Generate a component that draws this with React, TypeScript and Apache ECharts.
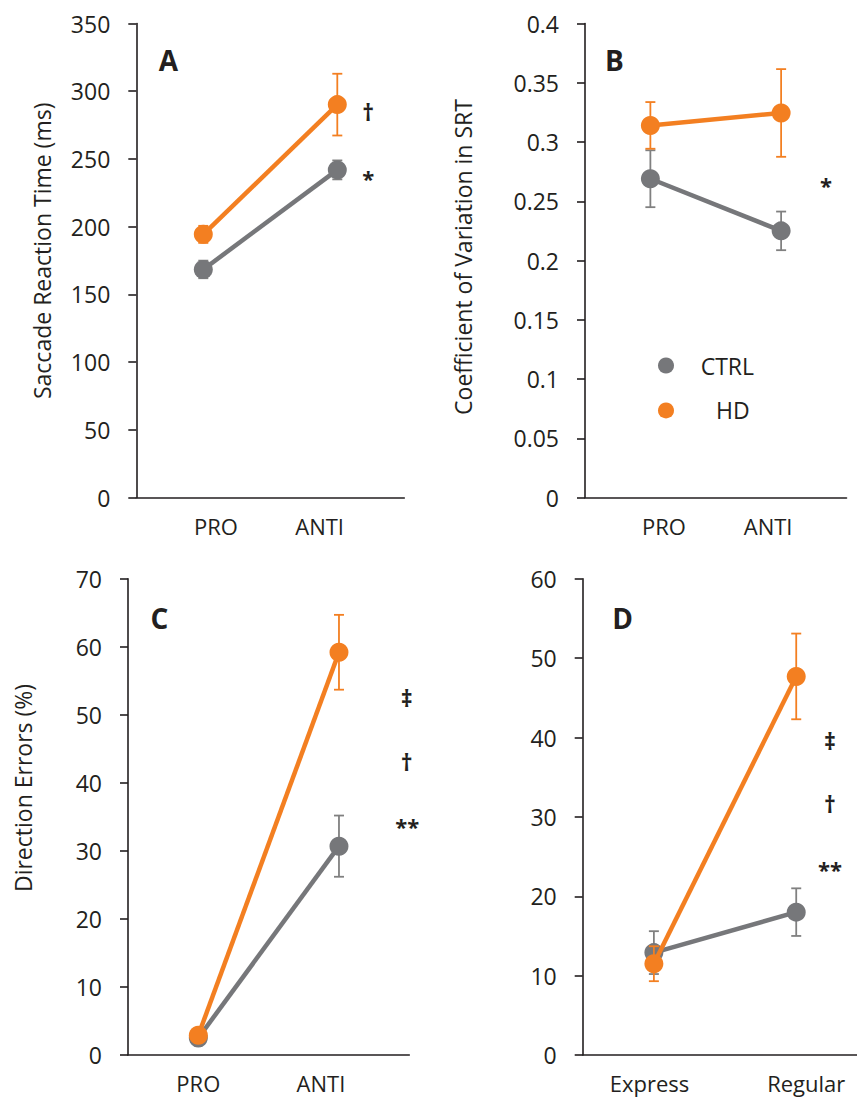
import React, { useEffect, useRef } from "react";
import * as echarts from "echarts";

// ---------- data ----------
const catsTask = ["PRO", "ANTI"];
const catsTrial = ["Express", "Regular"];

// A: saccade reaction time (ms)
const srtCtrl = [168.4, 241.9];
const srtCtrlErr = [6.5, 7.0];
const srtHd = [194.3, 290.1];
const srtHdErr = [6.3, 22.8];

// B: coefficient of variation in SRT
const cvCtrl = [0.269, 0.225];
const cvCtrlErr = [0.024, 0.0163];
const cvHd = [0.314, 0.3245];
const cvHdErr = [0.0197, 0.037];

// C: direction errors (%)
const deCtrl = [2.5, 30.7];
const deCtrlErr = [0.6, 4.5];
const deHd = [2.9, 59.2];
const deHdErr = [0.6, 5.5];

// D: direction errors by trial type (%)
const trCtrl = [12.9, 18.0];
const trCtrlErr = [2.7, 3.0];
const trHd = [11.5, 47.7];
const trHdErr = [2.2, 5.4];

// y-axis ranges [min, max, interval]
const yRangeA = [0, 350, 50];
const yRangeB = [0, 0.4, 0.05];
const yRangeC = [0, 70, 10];
const yRangeD = [0, 60, 10];

const seriesNames = ["CTRL", "HD"];

// ---------- style ----------
const FONT = "'Open Sans', 'DejaVu Sans', sans-serif";
const GRAY = "#76777a";
const GRAY_ERR = "#808080";
const ORANGE = "#f37f21";
const TEXT = "#231f20";
const AXIS = "#231f20";

type Panel = {
  cats: string[];
  ctrl: number[];
  ctrlErr: number[];
  hd: number[];
  hdErr: number[];
  range: number[];
  grid: { left: number; top: number; width: number; height: number };
  labelShift: number[];
};

const panels: Panel[] = [
  {
    cats: catsTask, ctrl: srtCtrl, ctrlErr: srtCtrlErr, hd: srtHd, hdErr: srtHdErr, range: yRangeA,
    grid: { left: 136.3, top: 23.5, width: 268, height: 474 },
    labelShift: [12.7, -17.7],
  },
  {
    cats: catsTask, ctrl: cvCtrl, ctrlErr: cvCtrlErr, hd: cvHd, hdErr: cvHdErr, range: yRangeB,
    grid: { left: 585, top: 23.5, width: 261.5, height: 474 },
    labelShift: [13.6, -13],
  },
  {
    cats: catsTask, ctrl: deCtrl, ctrlErr: deCtrlErr, hd: deHd, hdErr: deHdErr, range: yRangeC,
    grid: { left: 128, top: 578.8, width: 281.3, height: 476.2 },
    labelShift: [0, -18],
  },
  {
    cats: catsTrial, ctrl: trCtrl, ctrlErr: trCtrlErr, hd: trHd, hdErr: trHdErr, range: yRangeD,
    grid: { left: 582.7, top: 578.8, width: 284.7, height: 476.2 },
    labelShift: [-4.4, 10],
  },
];

function errData(mean: number[], err: number[]) {
  return mean.map((m, i) => [i, m - err[i], m + err[i]]);
}

function errSeries(name: string, color: string, idx: number, data: number[][], z: number) {
  return {
    type: "custom",
    name,
    xAxisIndex: idx,
    yAxisIndex: idx,
    z,
    silent: true,
    itemStyle: { color },
    encode: { x: 0, y: [1, 2] },
    data,
    renderItem: (_params: any, api: any) => {
      const x = api.value(0);
      const top = api.coord([x, api.value(2)]);
      const bot = api.coord([x, api.value(1)]);
      const cap = 5;
      const style = { stroke: color, lineWidth: 1.8, fill: "none" };
      return {
        type: "group",
        children: [
          { type: "line", shape: { x1: top[0], y1: top[1], x2: bot[0], y2: bot[1] }, style },
          { type: "line", shape: { x1: top[0] - cap, y1: top[1], x2: top[0] + cap, y2: top[1] }, style },
          { type: "line", shape: { x1: bot[0] - cap, y1: bot[1], x2: bot[0] + cap, y2: bot[1] }, style },
        ],
      };
    },
  };
}

function lineSeries(name: string, color: string, idx: number, data: number[], z: number) {
  return {
    type: "line",
    name,
    xAxisIndex: idx,
    yAxisIndex: idx,
    z,
    data,
    symbol: "circle",
    symbolSize: 19,
    showSymbol: true,
    silent: true,
    lineStyle: { color, width: 4.5 },
    itemStyle: { color },
    emphasis: { disabled: true },
  };
}

function buildOption() {
  const grids = panels.map((p) => ({ ...p.grid, containLabel: false }));

  const xAxes = panels.map((p, i) => {
    const rich: any = {};
    p.labelShift.forEach((s, k) => {
      rich["s" + k] = {
        fontSize: 22,
        fontFamily: FONT,
        color: TEXT,
        padding: s >= 0 ? [0, 0, 0, 2 * s] : [0, -2 * s, 0, 0],
      };
    });
    return {
      type: "category",
      gridIndex: i,
      data: p.cats,
      boundaryGap: true,
      axisLine: { show: true, lineStyle: { color: AXIS, width: 1.6 } },
      axisTick: { show: false },
      splitLine: { show: false },
      axisLabel: {
        margin: 17,
        formatter: (v: string, k: number) => `{s${k}|${v}}`,
        rich,
      },
    };
  });

  const yAxes = panels.map((p, i) => ({
    type: "value",
    gridIndex: i,
    min: p.range[0],
    max: p.range[1],
    interval: p.range[2],
    axisLine: { show: true, lineStyle: { color: AXIS, width: 1.6 } },
    axisTick: { show: true, inside: false, length: 8, lineStyle: { color: AXIS, width: 1.6 } },
    splitLine: { show: false },
    axisLabel: { margin: 26, fontSize: 23, fontFamily: FONT, color: TEXT },
  }));

  const series: any[] = [];
  panels.forEach((p, i) => {
    series.push(errSeries(seriesNames[0], GRAY_ERR, i, errData(p.ctrl, p.ctrlErr), 2));
    series.push(lineSeries(seriesNames[0], GRAY, i, p.ctrl, 3));
    series.push(errSeries(seriesNames[1], ORANGE, i, errData(p.hd, p.hdErr), 4));
    series.push(lineSeries(seriesNames[1], ORANGE, i, p.hd, 5));
  });

  const txt = (
    text: string,
    x: number,
    y: number,
    size: number,
    bold: boolean,
    rot = 0,
    align = "center"
  ) => ({
    type: "text",
    x,
    y,
    rotation: rot,
    silent: true,
    style: {
      text,
      fontSize: size,
      fontWeight: bold ? "bold" : "normal",
      fontFamily: FONT,
      fill: TEXT,
      textAlign: align,
      textVerticalAlign: "middle",
    },
  });

  const dot = (x: number, y: number, color: string) => ({
    type: "circle",
    silent: true,
    shape: { cx: x, cy: y, r: 8 },
    style: { fill: color },
  });

  const graphic = [
    txt("Saccade Reaction Time (ms)", 41.7, 250.8, 23, false, Math.PI / 2),
    txt("Coefficient of Variation in SRT", 463.3, 257, 23, false, Math.PI / 2),
    txt("Direction Errors (%)", 22.7, 788, 23, false, Math.PI / 2),
    txt("A", 168.3, 59.6, 28, true),
    txt("B", 614.3, 60.3, 28, true),
    txt("C", 159.3, 618.4, 28, true),
    txt("D", 622.7, 618.4, 28, true),
    txt("†", 368.3, 112, 23, true),
    txt("*", 368.3, 177.5, 22, true),
    txt("*", 826, 185, 22, true),
    txt("‡", 406.7, 698, 23, true),
    txt("†", 406.7, 761.5, 23, true),
    txt("**", 407.3, 826, 22, true),
    txt("‡", 830, 741.2, 23, true),
    txt("†", 830, 804.3, 23, true),
    txt("**", 830, 868.5, 22, true),
    // legend
    dot(666, 365.5, GRAY),
    txt(seriesNames[0], 700.7, 365.5, 23, false, 0, "left"),
    dot(666, 410.4, ORANGE),
    txt(seriesNames[1], 716, 410.4, 23, false, 0, "left"),
  ];

  return {
    animation: false,
    backgroundColor: "#ffffff",
    textStyle: { fontFamily: FONT },
    grid: grids,
    xAxis: xAxes,
    yAxis: yAxes,
    series,
    graphic,
  };
}

export default function App() {
  const ref = useRef<HTMLDivElement>(null);
  useEffect(() => {
    if (!ref.current) return;
    const chart = echarts.init(ref.current, undefined, { renderer: "svg" });
    chart.setOption(buildOption() as any);
    return () => chart.dispose();
  }, []);
  return (
    <div
      style={{
        position: "fixed",
        left: 0,
        top: 0,
        width: 857,
        height: 1098,
        overflow: "hidden",
        background: "#fff",
      }}
    >
      <div ref={ref} style={{ width: 880, height: 1098 }} />
    </div>
  );
}
